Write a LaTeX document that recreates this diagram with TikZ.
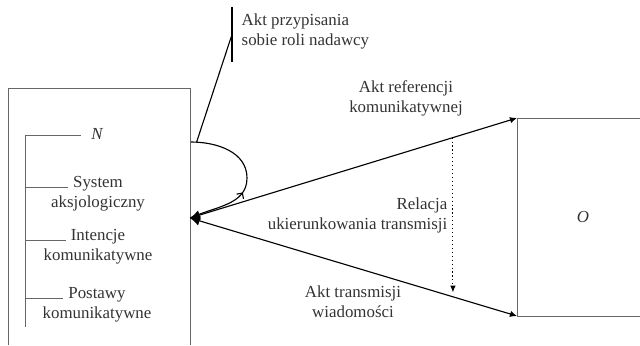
\documentclass[tikz,border=0pt]{standalone}
\usepackage{fontspec}
\setmainfont{Liberation Serif}
\usetikzlibrary{positioning, calc, arrows.meta, decorations.markings}
\tikzset{
	node distance = 0pt,
	frame/.style = {
		draw = black!60,
		line width = 0.6pt
	},
	txt/.style = {
		font = \fontsize{12}{14}\selectfont,
		text = black!80,
		inner sep = 1pt,
		text height = 9pt,
		text depth = 3pt
	},
	link/.style = {
		draw = black,
		line width = 0.8pt
	},
	twohead/.style = {
		{Latex[length=7pt,width=7pt]}-{Latex[length=5pt,width=4.5pt]}
	}
}

\begin{document}
\begin{tikzpicture}[x=0.025cm, y=-0.025cm]
		\useasboundingbox (0,0) rectangle (640,345);

		% sender box, open at the bottom
		\draw[frame] (8,345) -- (8,88) -- (190,88) -- (190,345);
		\coordinate (top) at (25,135);
		\coordinate (bot) at (25,327);
		\draw[frame] (top) -- (bot);

		\node[txt]                  (n)    at (97,135)  {\itshape N};
		\node[txt, anchor=base]     (sys)  at (98,187)  {System};
		\node[txt, below=of sys]    (sys2)              {aksjologiczny};
		\node[txt, anchor=base]     (int)  at (98,240)  {Intencje};
		\node[txt, below=of int]    (int2)              {komunikatywne};
		\node[txt, anchor=base]     (pos)  at (97,298)  {Postawy};
		\node[txt, below=of pos]    (pos2)              {komunikatywne};

		\draw[frame] (top) -- ([xshift=-6pt]n.west);
		\draw[frame, shorten >=2.5pt] (top |- sys.base) -- (sys.base west);
		\draw[frame, shorten >=2.5pt] (top |- int.base) -- (int.base west);
		\draw[frame, shorten >=2.5pt] (top |- pos.base) -- (pos.base west);

		% receiver box, open at the right
		\coordinate (otl) at (517,118);
		\coordinate (obl) at (517,316);
		\draw[frame] (640,118) -- (otl) -- (obl) -- (640,316);
		\node[txt] (o) at (583,218) {\itshape O};

		% acts
		\coordinate (p) at (190,218);
		\coordinate (s) at (191,142);
		\draw[link, twohead] (p) -- (otl);
		\draw[link, twohead] (p) -- (obl);
		\draw[link, postaction={decorate},
			decoration={markings, mark=at position 0.4 with {\arrow{Straight Barb[length=3pt,width=6pt]}}}]
			(p) to[out=25, in=-90] (247,178) to[out=90, in=0] (s);

		\coordinate (b1) at (232,7);
		\coordinate (b2) at (232,62);
		\draw[link] (b1) -- (b2);
		\draw[link] ([xshift=4pt]s) -- ($(b1)!0.5!(b2)$);

		\coordinate (d1) at ($(p)!0.804!(otl)$);
		\coordinate (d2) at ($(p)!0.804!(obl)$);
		\draw[dotted, line width=0.8pt, -{Latex[length=5pt,width=4pt]}, shorten >=3pt] (d1) -- (d2);

		\node[txt, anchor=west] (pr1) at (240,21) {Akt przypisania};
		\node[txt, below=of pr1.south west, anchor=north west] (pr2) {sobie roli nadawcy};
		\node[txt] (ref1) at (406,88) {Akt referencji};
		\node[txt, below=of ref1] (ref2) {komunikatywnej};
		\node[txt, anchor=east] (rel1) at (449,205) {Relacja};
		\node[txt, below=of rel1.south east, anchor=north east] (rel2) {ukierunkowania transmisji};
		\node[txt] (tr1) at (353,293) {Akt transmisji};
		\node[txt, below=of tr1] (tr2) {wiadomości};

	\end{tikzpicture}
\end{document}
